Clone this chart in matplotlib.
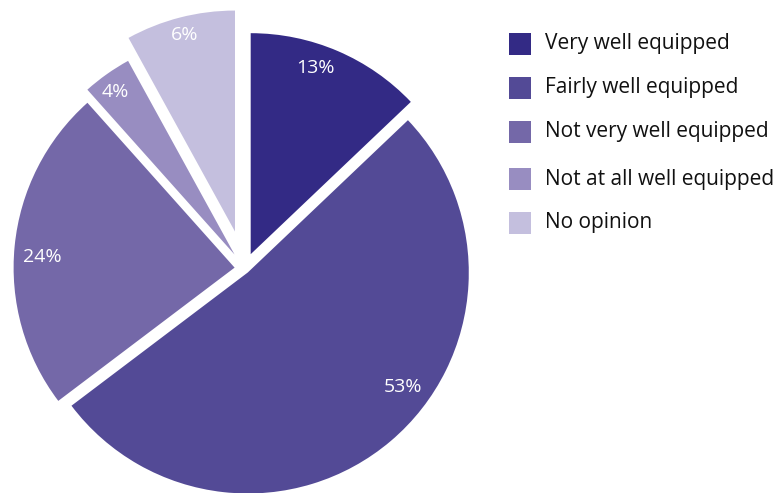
import matplotlib
matplotlib.use("Agg")
import matplotlib.pyplot as plt
from matplotlib.patches import Rectangle

# Data (shares; printed labels as shown)
categories = ["Very well equipped", "Fairly well equipped", "Not very well equipped",
              "Not at all well equipped", "No opinion"]
shares = [12.9, 51.8, 23.7, 3.6, 8.0]
pct_labels = ["13%", "53%", "24%", "4%", "6%"]
colors = ["#332a85", "#534a96", "#7468a8", "#988dc1", "#c4bfde"]
explode = [0.071, 0.023, 0.045, 0.078, 0.173]

W, H = 778, 493
fig = plt.figure(figsize=(W / 100, H / 100), dpi=100)
ax = fig.add_axes([0, 0, 1, 1])

FONT = "Open Sans"
cx_px, cy_px, r_px = 244.5, 268.6, 221.0

wedges, texts, autotexts = ax.pie(
    shares, colors=colors, explode=explode, startangle=90, counterclock=False,
    radius=1.0, autopct=lambda p: "", pctdistance=0.89,
    wedgeprops=dict(linewidth=0),
)

# label anchor positions (pixels in the figure)
label_px = [(315, 68), (403, 387), (42, 257), (115, 92), (185, 35)]
for t, lab, (px, py) in zip(autotexts, pct_labels, label_px):
    t.set_text(lab)
    t.set_color("white")
    t.set_fontsize(14)
    t.set_fontfamily(FONT)
    t.set_position(((px - cx_px) / r_px, (cy_px - py) / r_px))

ax.set_xlim((0 - cx_px) / r_px, (W - cx_px) / r_px)
ax.set_ylim((cy_px - H) / r_px, (cy_px - 0) / r_px)
ax.set_aspect("auto")
ax.axis("off")

# Legend drawn in figure pixel coordinates
row_y = [44, 88, 132, 179, 223]
for cat, col, y in zip(categories, colors, row_y):
    fig.add_artist(Rectangle((509 / W, 1 - (y + 11) / H), 22 / W, 22 / H,
                             transform=fig.transFigure, facecolor=col, edgecolor="none"))
    fig.text(545 / W, 1 - y / H, cat, ha="left", va="center",
             fontsize=15, fontfamily=FONT, color="#111111")

fig.savefig("out.png", dpi=100)
